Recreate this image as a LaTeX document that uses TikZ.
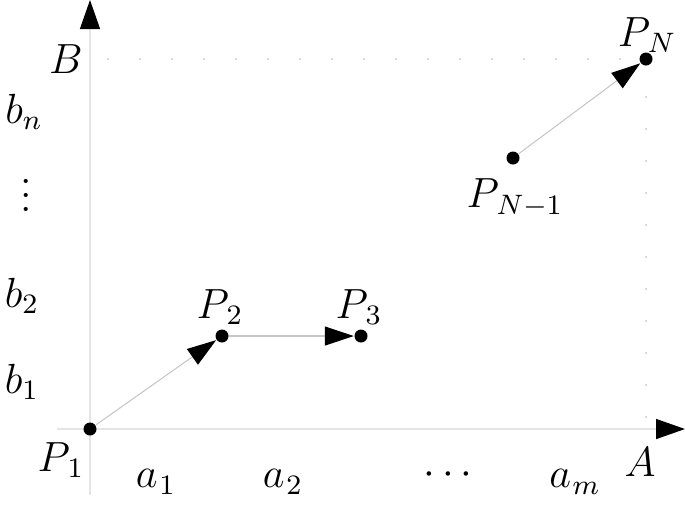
\documentclass[tikz,border=0pt]{standalone}
\usetikzlibrary{arrows.meta}
\begin{document}
\begin{tikzpicture}[>={Triangle[length=2.9mm,width=1.9mm,black]},x=1cm,y=1cm,font=\fontsize{12}{14}\selectfont]
			\def\xm{5.56} % góc phải trên
			\def\yn{3.70}
			\tikzset{diem/.style={circle,fill=black,inner sep=0pt,minimum size=1.3mm},
				duong/.style={gray!45,line width=0.3pt},
				truc/.style={gray!20,line width=0.4pt,-{Triangle[length=2.9mm,width=2mm,black]}}}
			\useasboundingbox (-0.90,-0.95) rectangle (5.95,4.29);
			\coordinate (xa) at (-0.33,0);
			\coordinate (xb) at (5.95,0);
			\coordinate (ya) at (0,-0.66);
			\coordinate (yb) at (0,4.29);
			\draw[truc] (xa)--(xb);
			\draw[truc] (ya)--(yb);
			\draw[gray!30,dash pattern=on 0.6pt off 8.5pt] (0.17,\yn)--(\xm,\yn)--(\xm,0);
			\node[diem] (P1) at (0,0) {};
			\node[diem] (P2) at (1.32,0.93) {};
			\node[diem] (P3) at (2.71,0.93) {};
			\node[diem] (Pn1) at (4.23,2.71) {};
			\node[diem] (Pn) at (\xm,\yn) {};
			\draw[duong,->] (P1)--(P2);
			\draw[duong,->] (P2)--(P3);
			\draw[duong,->] (Pn1)--(Pn);
			\node (tP1) at (-0.29,-0.31) {$P_{\mkern2mu1}$};
			\node (tP2) at (1.30,1.22) {$P_{\mkern2mu2}$};
			\node (tP3) at (2.69,1.22) {$P_{\mkern2mu3}$};
			\node (tPn1) at (4.25,2.31) {$P_{\mkern2mu N-1}$};
			\node (tPn) at (5.57,3.94) {$P_{\mkern2mu N}$};
			\node (tA) at (5.50,-0.33) {$A$};
			\node (tB) at (-0.24,3.70) {$B$};
			\node (a1) at (0.66,-0.53) {$a_{\mkern1mu1}$};
			\node (a2) at (1.93,-0.53) {$a_{\mkern1mu2}$};
			\node (ad) at (3.58,-0.46) {$\cdots$};
			\node (am) at (4.85,-0.53) {$a_{\mkern1mu m}$};
			\node (b1) at (-0.68,0.47) {$b_1$};
			\node (b2) at (-0.68,1.33) {$b_2$};
			\node (bd) at (-0.64,2.44) {$\vdots$};
			\node (bn) at (-0.66,3.17) {$b_n$};
	\end{tikzpicture}
\end{document}
